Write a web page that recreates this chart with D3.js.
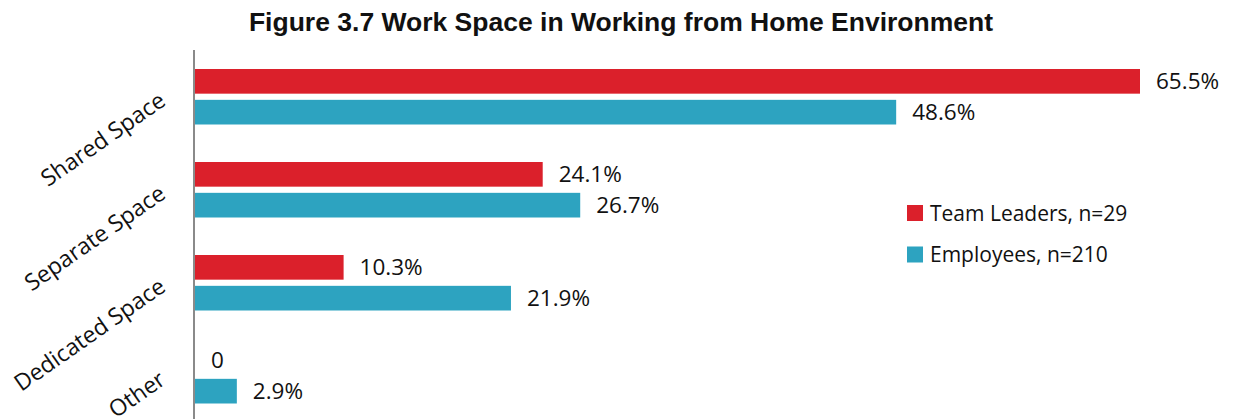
<!DOCTYPE html>
<html>
<head>
<meta charset="utf-8">
<script src="https://cdn.jsdelivr.net/npm/d3@7"></script>
<style>
  html, body { margin: 0; padding: 0; background: #fff; }
  svg { display: block; }
</style>
</head>
<body>
<svg id="chart" width="1234" height="419"></svg>
<script>
const title = "Figure 3.7 Work Space in Working from Home Environment";
const categories = ["Shared Space", "Separate Space", "Dedicated Space", "Other"];
const seriesNames = ["Team Leaders, n=29", "Employees, n=210"];
const teamLeaders = [65.5, 24.1, 10.3, 0];
const employees = [48.6, 26.7, 21.9, 2.9];
const valueLabelsTL = ["65.5%", "24.1%", "10.3%", "0"];
const valueLabelsEmp = ["48.6%", "26.7%", "21.9%", "2.9%"];
const colors = ["#DB202B", "#2DA3C0"];

const svg = d3.select("#chart");
const W = 1234, H = 419;

const x = d3.scaleLinear().domain([0, 65.5]).range([195, 1140]);
const y0 = d3.scaleBand().domain(categories).range([50.5, 422.5]).padding(0);
const y1 = d3.scaleBand().domain(seriesNames).range([18.5, 74]).paddingInner(0.2).paddingOuter(0);
const color = d3.scaleOrdinal().domain(seriesNames).range(colors);

// Title
svg.append("text")
  .attr("x", 621).attr("y", 31)
  .attr("text-anchor", "middle")
  .style("font-family", "'Liberation Sans', Arial, sans-serif")
  .style("font-weight", "bold")
  .style("font-size", "26.5px")
  .style("fill", "#111")
  .text(title);

const data = categories.map((c, i) => ({
  cat: c,
  vals: [
    { s: seriesNames[0], v: teamLeaders[i], label: valueLabelsTL[i] },
    { s: seriesNames[1], v: employees[i], label: valueLabelsEmp[i] }
  ]
}));

const groups = svg.append("g").selectAll("g")
  .data(data).join("g")
  .attr("transform", d => `translate(0,${y0(d.cat)})`);

groups.selectAll("rect")
  .data(d => d.vals).join("rect")
  .attr("x", x(0))
  .attr("y", d => y1(d.s))
  .attr("width", d => x(d.v) - x(0))
  .attr("height", y1.bandwidth())
  .attr("fill", d => color(d.s));

groups.selectAll("text.val")
  .data(d => d.vals).join("text")
  .attr("class", "val")
  .attr("x", d => x(d.v) + 16)
  .attr("y", d => y1(d.s) + y1.bandwidth() / 2)
  .attr("dy", "0.36em")
  .style("font-family", "'Open Sans', sans-serif")
  .style("font-size", "22.5px")
  .style("fill", "#111")
  .text(d => d.label);

// Axis (vertical line, no ticks)
const yAxis = d3.axisLeft(y0).tickSize(0).tickFormat("");
const axG = svg.append("g").attr("transform", `translate(194,0)`).call(yAxis);
axG.select(".domain").attr("stroke", "#8a8a8a").attr("stroke-width", 2)
  .attr("d", `M0,50V${H}`);

// Category labels rotated
svg.append("g").selectAll("text")
  .data(categories).join("text")
  .attr("transform", d => `translate(167,${y0(d) + y0.bandwidth() / 2 + 7}) rotate(-35)`)
  .attr("text-anchor", "end")
  .style("font-family", "'Open Sans', sans-serif")
  .style("font-size", "23px")
  .style("fill", "#111")
  .text(d => d);

// Legend
const legend = svg.append("g").selectAll("g")
  .data(seriesNames).join("g")
  .attr("transform", (d, i) => `translate(907,${205 + i * 41.5})`);
legend.append("rect").attr("width", 16).attr("height", 16).attr("fill", d => color(d));
legend.append("text")
  .attr("x", 23).attr("y", 8).attr("dy", "0.36em")
  .style("font-family", "'Open Sans', sans-serif")
  .style("font-size", "21px")
  .style("fill", "#111")
  .text(d => d);
</script>
</body>
</html>
